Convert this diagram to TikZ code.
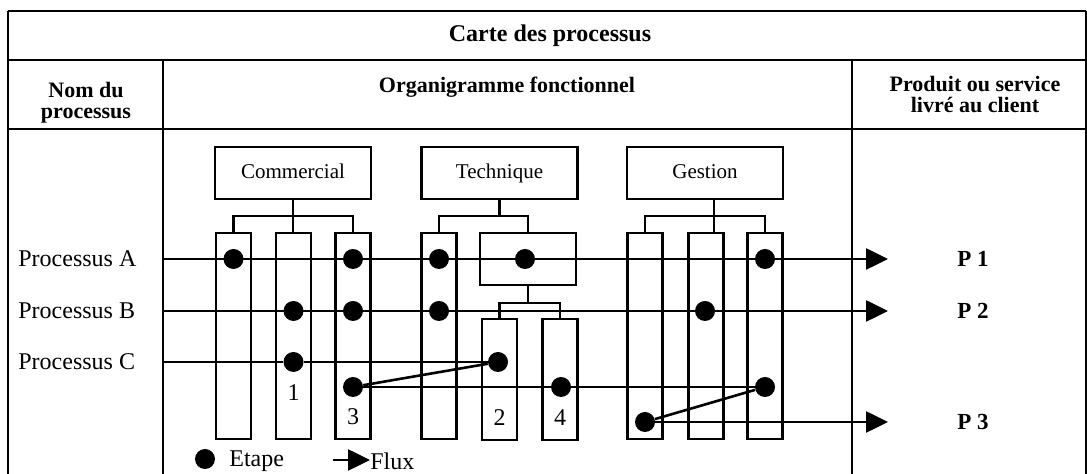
\documentclass[tikz,border=0pt]{standalone}
\usepackage{fontspec}
\setmainfont{Liberation Serif}
\usetikzlibrary{arrows.meta,calc}
\begin{document}
\begin{tikzpicture}[x=0.5pt,y=-0.5pt,
  rule/.style={line width=1.2pt},
  box/.style={draw,line width=1.3pt,inner sep=0pt,minimum width=78pt,minimum height=26pt,text height=1.6ex,text depth=0.3ex,font=\fontsize{10.5}{12}\selectfont},
  col/.style={draw,line width=1.3pt,inner sep=0pt,minimum width=17.5pt,minimum height=103pt},
  scol/.style={draw,line width=1.3pt,inner sep=0pt,minimum width=17.5pt,minimum height=60.5pt},
  wbox/.style={draw,line width=1.3pt,inner sep=0pt,minimum width=48pt,minimum height=26pt},
  dot/.style={circle,fill,inner sep=0pt,minimum size=10pt},
  link/.style={line width=1.3pt},
  flow/.style={line width=1.3pt,-{Triangle[length=11pt,width=10.5pt]}},
  hdr/.style={font=\bfseries\fontsize{11}{10.5}\selectfont,align=center,inner sep=0pt},
  lab/.style={font=\fontsize{12}{14}\selectfont,inner sep=0pt},
  prod/.style={font=\bfseries\fontsize{11.5}{13}\selectfont,inner sep=0pt}]
\useasboundingbox (0,0) rectangle (1087,474);
% table
\draw[rule] (8,11) -- (1086,11);
\draw[rule] (8,60) -- (1086,60);
\draw[rule] (8,129) -- (1086,129);
\draw[rule] (8,11) -- (8,474);
\draw[rule] (1086,11) -- (1086,474);
\draw[rule] (163,60) -- (163,474);
\draw[rule] (852,60) -- (852,474);
% headers
\node[font=\bfseries\fontsize{12}{14}\selectfont,inner sep=0pt] (title) at (550,36) {Carte des processus};
\node[hdr] (h1) at (86,103) {Nom du\\processus};
\node[hdr] (h2) at (507,87) {Organigramme fonctionnel};
\node[hdr] (h3) at (975,95) {Produit ou service\\livré au client};
% top boxes
\node[box] (com) at (293,173) {Commercial};
\node[box] (tec) at (499.5,173) {Technique};
\node[box] (ges) at (705,173) {Gestion};
% columns
\node[col] (c1) at (233.5,336) {};
\node[col] (c2) at (293.5,336) {};
\node[col] (c3) at (353,336) {};
\node[col] (t1) at (439,336) {};
\node[wbox] (t2) at (528,259) {};
\node[scol] (t3) at (499.5,379.5) {};
\node[scol] (t4) at (560,379.5) {};
\node[col] (g1) at (645,336) {};
\node[col] (g2) at (706,336) {};
\node[col] (g3) at (765,336) {};
% tree connectors
\coordinate (cbar) at (0,216);
\coordinate (tbar) at (0,303);
\coordinate (gtap) at (714,216);
\draw[link] (com.south) -- (com.south |- c2.north);
\draw[link] (c1.north) -- (c1.north |- cbar) -- (c3.north |- cbar) -- (c3.north);
\draw[link] (tec.south) -- (tec.south |- cbar);
\draw[link] (t1.north) -- (t1.north |- cbar) -- (t2.north |- cbar) -- (t2.north);
\draw[link] (t2.south) -- (t2.south |- tbar);
\draw[link] (t3.north) -- (t3.north |- tbar) -- (t4.north |- tbar) -- (t4.north);
\draw[link] (ges.south -| gtap) -- (g2.north -| gtap);
\draw[link] (g1.north) -- (g1.north |- cbar) -- (g3.north |- cbar) -- (g3.north);
% process labels
\node[lab,anchor=west] (pa) at (18,259) {Processus A};
\node[lab,anchor=west] (pb) at (18,311) {Processus B};
\node[lab,anchor=west] (pc) at (18,362) {Processus C};
% process line ends
\coordinate (aS) at (163,259); \coordinate (aE) at (888,259);
\coordinate (bS) at (163,311); \coordinate (bE) at (888,311);
\coordinate (cS) at (163,362); \coordinate (cE) at (888,422);
\draw[flow] (aS) -- (aE);
\draw[flow] (bS) -- (bE);
% dots
\node[dot] (a1) at (233.5,259) {};
\node[dot] (a2) at (353,259) {};
\node[dot] (a3) at (439,259) {};
\node[dot] (a4) at (525,259) {};
\node[dot] (a5) at (765,259) {};
\node[dot] (b1) at (293.5,311) {};
\node[dot] (b2) at (353,311) {};
\node[dot] (b3) at (439,311) {};
\node[dot] (b4) at (705,311) {};
\node[dot] (k1) at (293.5,362) {};
\node[dot] (k2) at (498,362) {};
\node[dot] (k3) at (353,387) {};
\node[dot] (k4) at (561,387) {};
\node[dot] (k5) at (765,387) {};
\node[dot] (k6) at (645,422) {};
% process C flows
\draw[link] (cS) -- (k1) -- (k2);
\draw[link] (k3) -- (k2);
\draw[link] (k3) -- (k4) -- (k5);
\draw[link] (k5) -- (k6);
\draw[flow] (k6) -- (cE);
% numbers
\node[lab] (n1) at (293.5,393) {1};
\node[lab] (n3) at (353,417) {3};
\node[lab] (n2) at (499.5,418) {2};
\node[lab] (n4) at (560,418) {4};
% products
\node[prod] (p1) at (973,259) {P 1};
\node[prod] (p2) at (973,311) {P 2};
\node[prod] (p3) at (973,422) {P 3};
% legend
\node[dot] (legdot) at (205,459) {};
\node[lab,anchor=west] (legstep) at (229,461) {Etape};
\coordinate (legS) at (333,460); \coordinate (legE) at (370,460);
\draw[flow] (legS) -- (legE);
\node[lab,anchor=west] (legflux) at (370,461) {Flux};
\end{tikzpicture}
\end{document}
